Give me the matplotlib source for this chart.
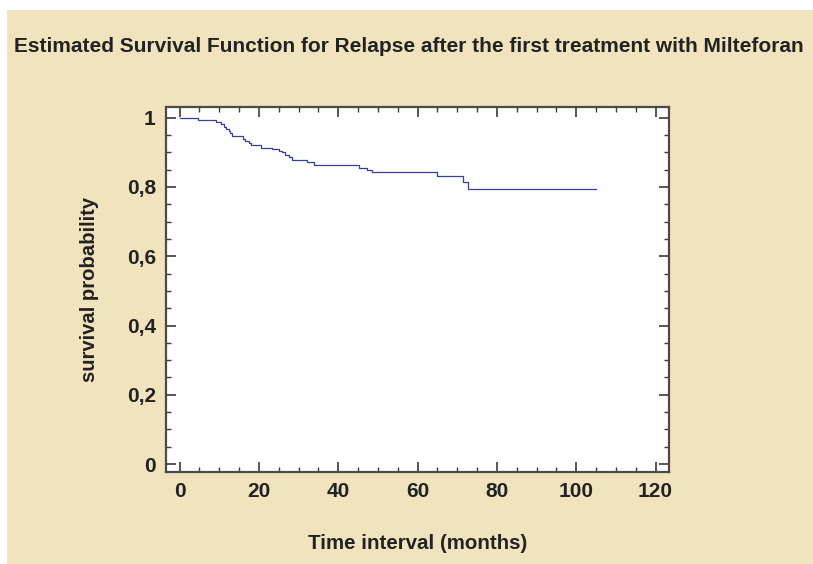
import matplotlib
matplotlib.use("Agg")
import matplotlib.pyplot as plt
from matplotlib.patches import Rectangle
from matplotlib.ticker import MultipleLocator, FuncFormatter

# Kaplan-Meier estimate (months, survival)
times = [0, 4.6, 9.1, 10.5, 11.1, 11.8, 12.4, 12.8, 13.3, 16.0, 16.5, 17.4, 17.9,
         20.5, 23.2, 25.0, 25.7, 26.5, 27.6, 28.4, 32.0, 33.9, 45.3, 47.3, 48.6,
         64.8, 71.4, 72.8, 105.0]
surv = [1.0, 0.993, 0.988, 0.982, 0.974, 0.968, 0.961, 0.955, 0.947, 0.938, 0.934,
        0.928, 0.920, 0.913, 0.909, 0.905, 0.900, 0.891, 0.886, 0.878, 0.871, 0.863,
        0.855, 0.849, 0.843, 0.832, 0.813, 0.793, 0.793]

title = "Estimated Survival Function for Relapse after the first treatment with Milteforan"
xlabel = "Time interval (months)"
ylabel = "survival probability"

plt.rcParams['font.family'] = ['Liberation Sans', 'DejaVu Sans']
plt.rcParams['font.weight'] = 'bold'

beige = '#f2e3bf'
fig = plt.figure(figsize=(8.13, 5.64), dpi=100)
fig.patches.append(Rectangle((7 / 813, 0), 1, 1 - 10 / 564, transform=fig.transFigure,
                             facecolor=beige, edgecolor='none', zorder=-10))

ax = fig.add_axes([0.2036, 0.1631, 0.6193, 0.6472])
ax.step(times, surv, where='post', color='#3440a0', lw=0.9)

ax.set_xlim(-3.56, 123.4)
ax.set_ylim(-0.023, 1.031)
ax.xaxis.set_major_locator(MultipleLocator(20))
ax.xaxis.set_minor_locator(MultipleLocator(5))
ax.yaxis.set_major_locator(MultipleLocator(0.2))
ax.yaxis.set_minor_locator(MultipleLocator(0.05))
ax.yaxis.set_major_formatter(FuncFormatter(lambda v, p: ('%g' % round(v, 2)).replace('.', ',')))

ax.tick_params(which='both', direction='in', top=True, right=True, colors='#3a3a3a',
               labelcolor='#222222', labelsize=15)
ax.tick_params(which='major', length=7.5, width=1.2, pad=7)
ax.tick_params(which='minor', length=3.8, width=1.0)
for s in ax.spines.values():
    s.set_color('#4a4a4a')
    s.set_linewidth(1.6)

ax.set_xlabel(xlabel, fontsize=14.8, fontweight='bold', color='#222222', labelpad=24)
ax.set_ylabel(ylabel, fontsize=14.6, fontweight='bold', color='#222222', labelpad=20)
fig.text(0.503, 1 - 47 / 564, title, ha='center', va='center', fontsize=15,
         fontweight='bold', color='#222222')

fig.savefig('out.png', dpi=100)
